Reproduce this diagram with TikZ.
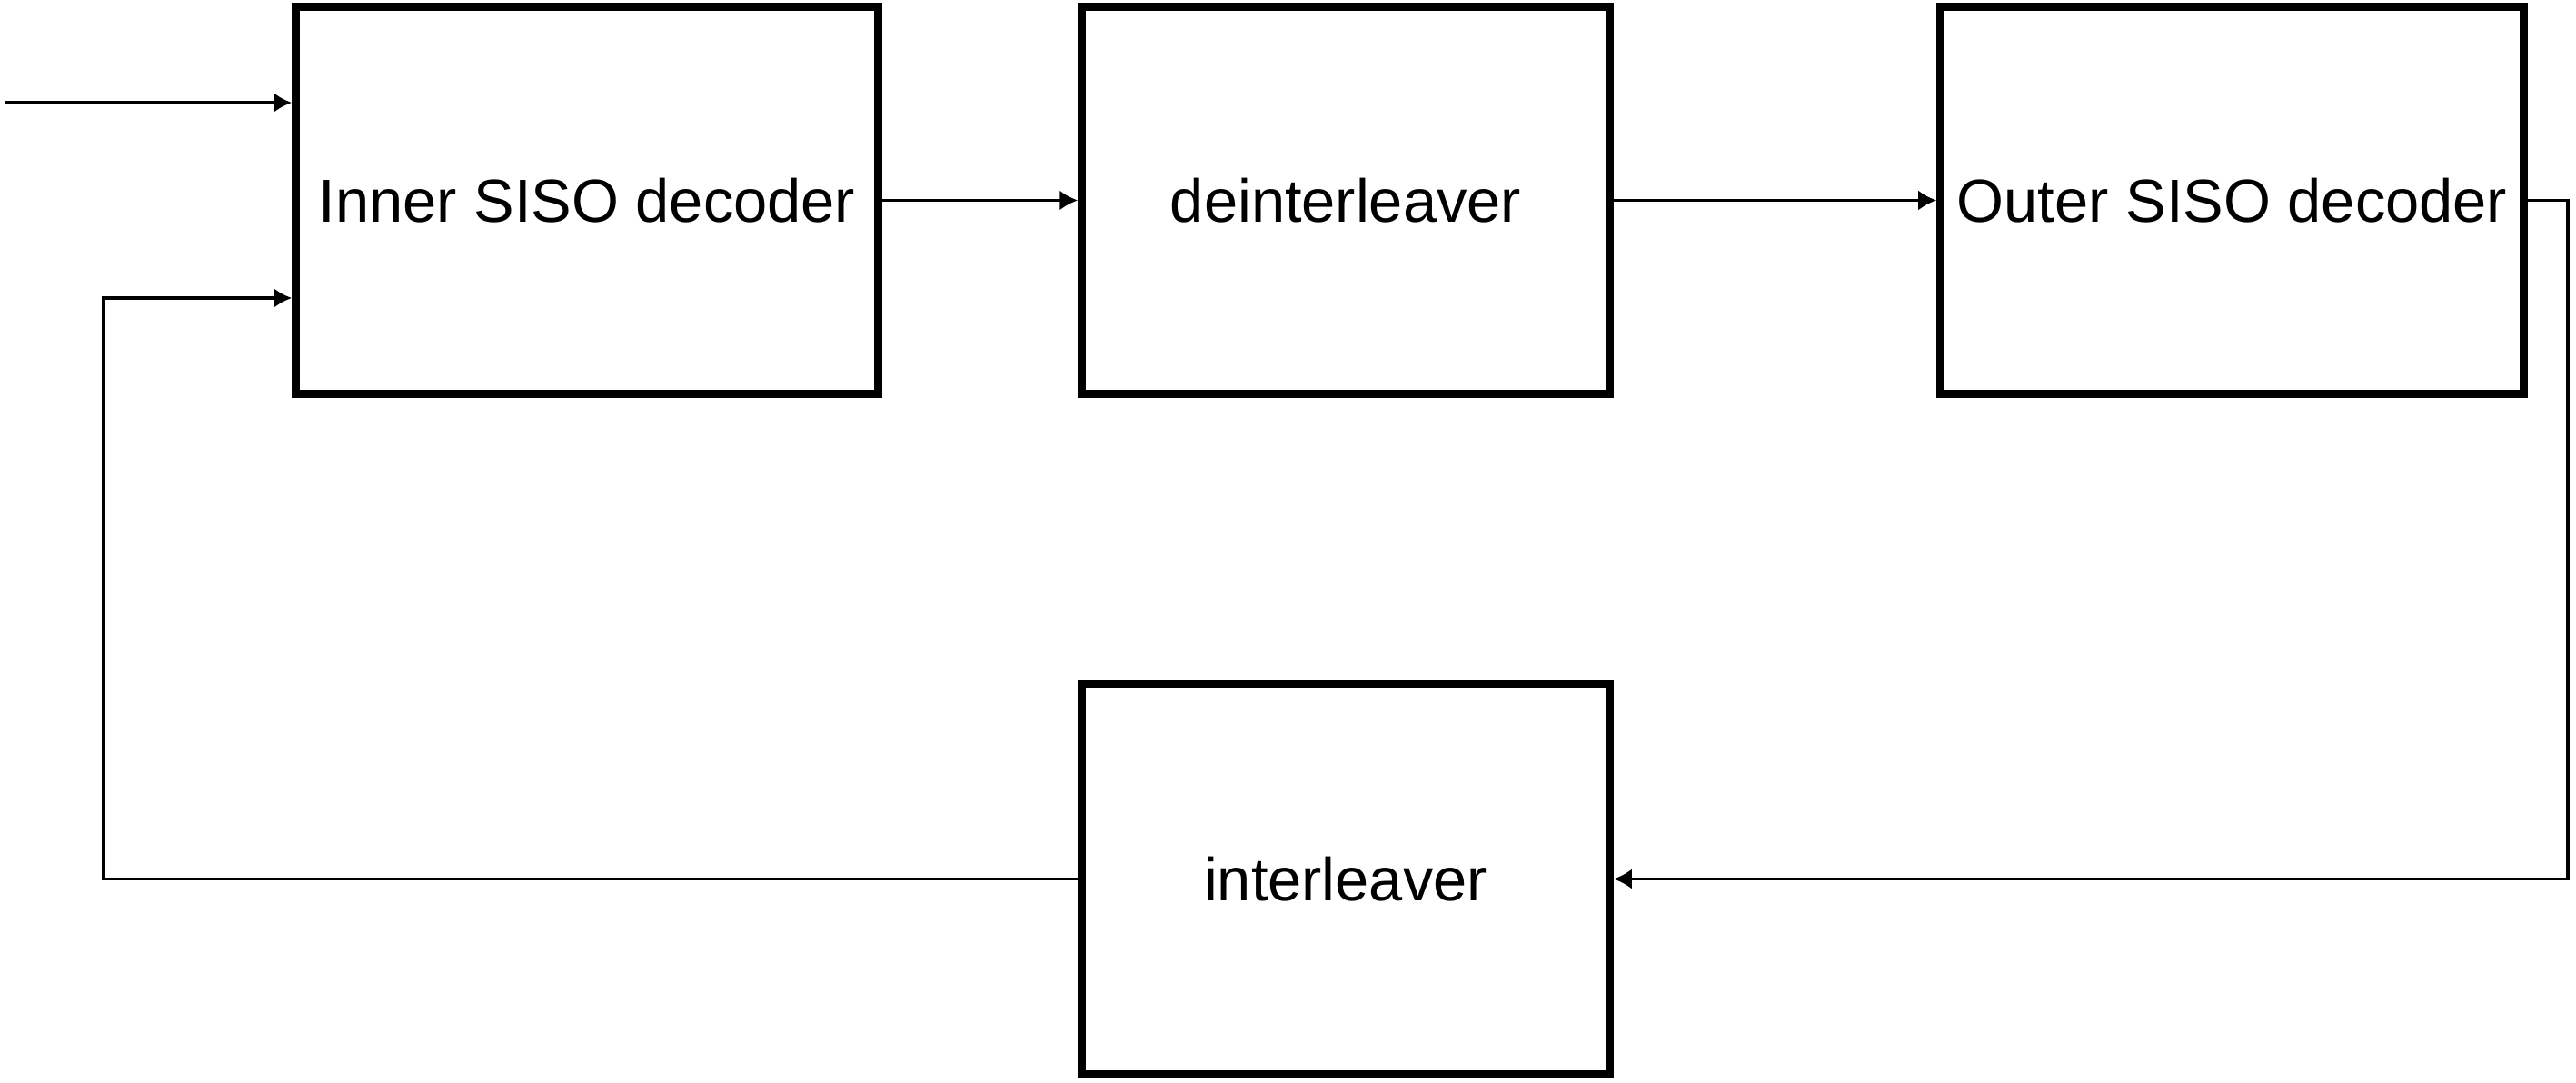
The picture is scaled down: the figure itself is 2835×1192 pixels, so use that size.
\documentclass[tikz,border=0pt]{standalone}
\usepackage{fontspec}
\setmainfont{Liberation Sans}
\usetikzlibrary{arrows.meta}
\begin{document}
\begin{tikzpicture}[x=0.01cm,y=-0.01cm,
  blockbox/.style={draw,line width=2.6pt,rectangle,inner sep=0pt,font=\fontsize{19pt}{22pt}\selectfont},
  conn/.style={line width=1pt,-{Latex[length=0.2cm,width=0.22cm]}},
  plain/.style={line width=1pt}]
\useasboundingbox (0,0) rectangle (2835,1192);
\node[blockbox,minimum width=6.4cm,minimum height=4.25cm] (inner) at (646,220.5) {Inner SISO decoder};
\node[blockbox,minimum width=5.8cm,minimum height=4.25cm] (deint) at (1481,220.5) {deinterleaver};
\node[blockbox,minimum width=6.41cm,minimum height=4.25cm] (outer) at (2456.5,220.5) {Outer SISO decoder};
\node[blockbox,minimum width=5.8cm,minimum height=4.29cm] (inter) at (1481,967.5) {interleaver};
\coordinate (in) at (5,113);
\coordinate (fb) at (114,328);
\coordinate (rt) at (2826,220.5);
\draw[conn] (in) -- (in -| inner.west);
\draw[conn] (inner.east) -- (deint.west);
\draw[conn] (deint.east) -- (outer.west);
\draw[conn] (outer.east) -- (rt) |- (inter.east);
\draw[conn] (inter.west) -| (fb) -- (fb -| inner.west);
\end{tikzpicture}
\end{document}
